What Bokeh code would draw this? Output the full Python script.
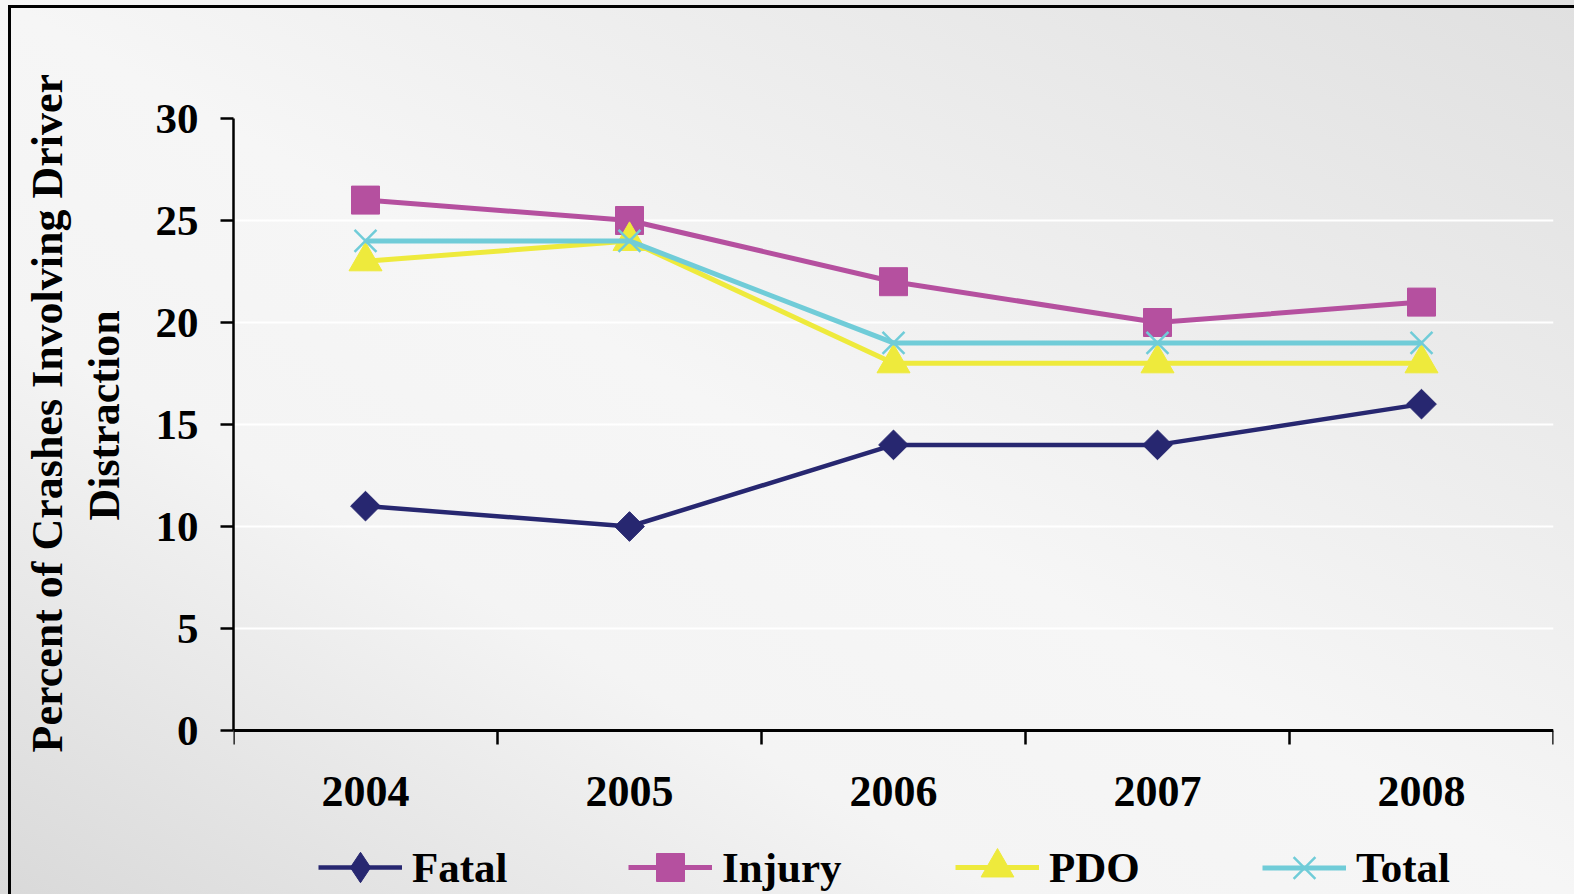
import numpy as np
from bokeh.plotting import figure
from bokeh.models import Range1d, FixedTicker, Legend, LegendItem, Title
from bokeh.embed import file_html
from bokeh.resources import INLINE

# ---- data ----
years = ["2004", "2005", "2006", "2007", "2008"]
fatal = [11, 10, 14, 14, 16]
injury = [26, 25, 22, 20, 21]
pdo = [23, 24, 18, 18, 18]
total = [24, 24, 19, 19, 19]
y_ticks = [0, 5, 10, 15, 20, 25, 30]
y_title_lines = ["Percent of Crashes Involving Driver", "Distraction"]

# ---- styles / layout ----
FONT = "Liberation Serif"
W, H = 1574, 894
FRAME_L, FRAME_R, FRAME_T, ZERO_Y = 233, 1553, 118, 730
series = [
    # label, values, color, marker, size, angle, line width, legend marker, legend glyph h, legend x
    ("Fatal", fatal, "#272770", "square", 21, np.pi / 4, 4.5, "diamond", 76, 85),
    ("Injury", injury, "#B5509F", "square", 28, 0.0, 5, None, 70, 395),
    ("PDO", pdo, "#EEEA3C", "triangle", 33, 0.0, 5, None, 82, 722),
    ("Total", total, "#70CCD8", "x", 31, 0.0, 5, None, 77, 1029),
]
LEGEND_CY = 867
# title lines: (text, distance of text start from frame bottom, standoff)
title_specs = [(y_title_lines[1], 374, 48), (y_title_lines[0], 142, -36)]

xs = [i + 0.5 for i in range(len(years))]
bounds = list(range(len(years) + 1))

ymax = y_ticks[-1]
px_per_unit = (ZERO_Y - FRAME_T) / (ymax - y_ticks[0])
ymin = y_ticks[0] - (H - ZERO_Y) / px_per_unit

p = figure(width=W, height=H, output_backend="svg", toolbar_location=None,
           x_range=Range1d(0, len(years)), y_range=Range1d(ymin, ymax),
           min_border_left=FRAME_L, min_border_right=W - FRAME_R,
           min_border_top=FRAME_T, min_border_bottom=0)
p.border_fill_alpha = 0
p.background_fill_alpha = 0
p.outline_line_color = None
p.styles = {
    "background": ("linear-gradient(#000,#000) 8px 5px/3px 100% no-repeat, "
                   "linear-gradient(#000,#000) 8px 5px/100% 3px no-repeat, "
                   "linear-gradient(to top right, #d9d9d9 0%, #f4f4f4 32%, "
                   "#f6f6f6 50%, #e0e0e0 100%)")
}

# axes
xa = p.xaxis[0]
xa.fixed_location = y_ticks[0]
xa.ticker = FixedTicker(ticks=xs, minor_ticks=bounds)
xa.major_label_overrides = {x: y for x, y in zip(xs, years)}
xa.major_tick_line_color = None
xa.major_tick_out = 14
xa.major_tick_in = 0
xa.minor_tick_out = 14
xa.minor_tick_in = 0
xa.minor_tick_line_color = "black"
xa.minor_tick_line_width = 2.5
xa.axis_line_width = 3
xa.axis_line_color = "black"
xa.major_label_text_font = FONT
xa.major_label_text_font_style = "bold"
xa.major_label_text_font_size = "44px"
xa.major_label_text_color = "black"
xa.major_label_standoff = 32

ya = p.yaxis[0]
ya.bounds = (y_ticks[0], y_ticks[-1])
ya.ticker = FixedTicker(ticks=y_ticks, minor_ticks=[])
ya.major_tick_out = 13
ya.major_tick_in = 0
ya.major_tick_line_width = 2.5
ya.major_tick_line_color = "black"
ya.axis_line_width = 2.5
ya.axis_line_color = "black"
ya.major_label_text_font = FONT
ya.major_label_text_font_style = "bold"
ya.major_label_text_font_size = "43px"
ya.major_label_text_color = "black"
ya.major_label_standoff = 22

# y-axis title as two stacked left titles
for text, start, standoff in title_specs:
    t = Title(text=text, align="left", offset=start,
              text_font=FONT, text_font_style="bold", text_font_size="44px",
              text_color="black", standoff=standoff)
    p.add_layout(t, "left")

p.xgrid.grid_line_color = None
p.ygrid.ticker = FixedTicker(ticks=y_ticks[1:])
p.ygrid.grid_line_color = "white"
p.ygrid.grid_line_width = 2

for label, vals, color, marker, size, angle, lw, lmarker, gh, lx in series:
    lr = p.line(xs, vals, line_color=color, line_width=lw)
    if marker == "x":
        sr = p.scatter(xs, vals, marker=marker, size=size, line_color=color,
                       line_width=2.5, fill_color=None)
    else:
        sr = p.scatter(xs, vals, marker=marker, size=size, angle=angle,
                       fill_color=color, line_color=color, line_width=1)
    rends = [lr, sr]
    if lmarker is not None:
        # legend-only marker shape (hidden in the plot)
        er = p.scatter(xs, vals, marker=lmarker, size=size, fill_color=color,
                       line_color=color, line_width=1, visible=False)
        rends = [lr, er]
    leg = Legend(items=[LegendItem(label=label, renderers=rends)],
                 location=(lx, (H - LEGEND_CY) - gh / 2), orientation="horizontal",
                 glyph_width=84, glyph_height=gh, label_standoff=10,
                 padding=0, margin=0, border_line_color=None,
                 background_fill_alpha=0, label_text_font=FONT,
                 label_text_font_style="bold", label_text_font_size="43px",
                 label_text_color="black")
    p.add_layout(leg)

open("out.html", "w").write(file_html(p, INLINE))
